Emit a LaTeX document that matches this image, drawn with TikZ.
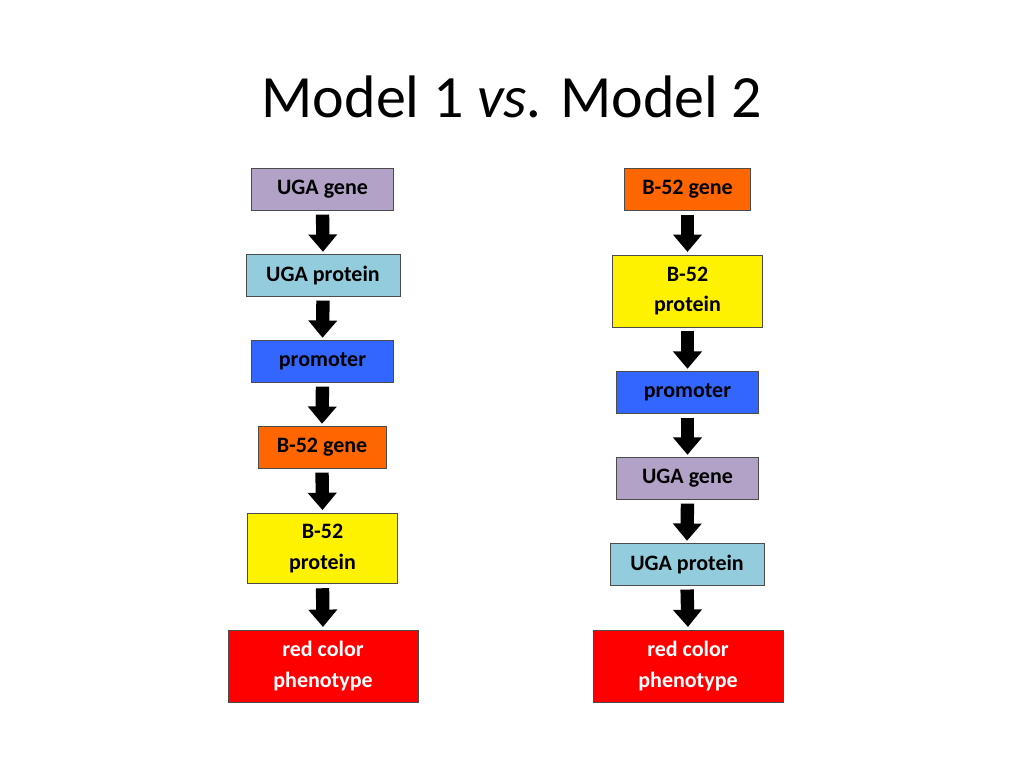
\documentclass[tikz,border=0pt]{standalone}
\usepackage{fontspec}
\setmainfont{Carlito}
\usetikzlibrary{arrows.meta}
\begin{document}
\begin{tikzpicture}[x=0.75pt,y=-0.75pt,
  bx/.style={draw=black!70,line width=0.6pt,inner sep=0pt,font=\bfseries\fontsize{16.5}{23}\selectfont,align=center},
  ar/.style={line width=10pt,-{Triangle[width=21pt,length=13pt]},shorten <=3pt,shorten >=2pt}]
\useasboundingbox (0,0) rectangle (1024,768);
\node at (512,97) {\fontsize{45}{54}\selectfont Model 1 \textit{vs.} Model 2};
\definecolor{lav}{HTML}{B3A2C7}\definecolor{lb}{HTML}{93CDDD}
\definecolor{bl}{HTML}{3366FF}\definecolor{org}{HTML}{FF6600}
\node[bx,fill=lav,minimum width=107pt,minimum height=31pt] (a1) at (322.5,189.5) {UGA gene};
\node[bx,fill=lb,minimum width=115.5pt,minimum height=31pt] (a2) at (323,275.5) {UGA protein};
\node[bx,fill=bl,minimum width=107pt,minimum height=31pt] (a3) at (322.5,361.5) {promoter};
\node[bx,fill=org,minimum width=96pt,minimum height=31pt] (a4) at (322,447.5) {B-52 gene};
\node[bx,fill=yellow,minimum width=112pt,minimum height=53pt] (a5) at (322.5,548.5) {B-52\\protein};
\node[bx,fill=red,text=white,minimum width=142.5pt,minimum height=54pt] (a6) at (323,666) {red color\\phenotype};
\node[bx,fill=org,minimum width=95pt,minimum height=31pt] (b1) at (687.5,189.5) {B-52 gene};
\node[bx,fill=yellow,minimum width=112pt,minimum height=54pt] (b2) at (687.5,291) {B-52\\protein};
\node[bx,fill=bl,minimum width=107pt,minimum height=31pt] (b3) at (687.5,392.5) {promoter};
\node[bx,fill=lav,minimum width=107pt,minimum height=31pt] (b4) at (687.5,478.5) {UGA gene};
\node[bx,fill=lb,minimum width=115.5pt,minimum height=31pt] (b5) at (687,564.5) {UGA protein};
\node[bx,fill=red,text=white,minimum width=142.5pt,minimum height=54pt] (b6) at (688,666) {red color\\phenotype};
\foreach \p/\q in {a1/a2,a2/a3,a3/a4,a4/a5,a5/a6,b1/b2,b2/b3,b3/b4,b4/b5,b5/b6}
  \draw[ar] (\p.south) -- (\q.north);
\end{tikzpicture}
\end{document}
